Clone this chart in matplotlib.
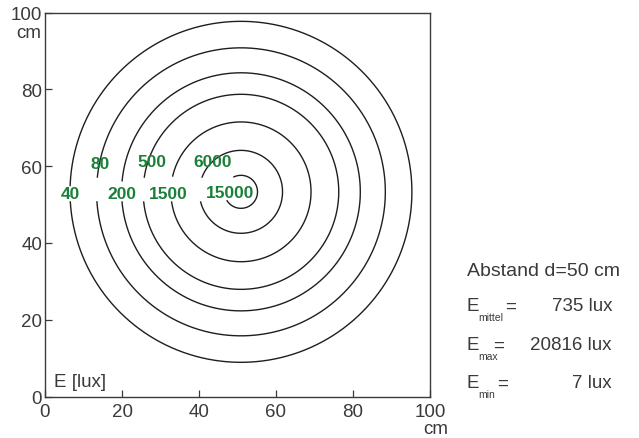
import numpy as np
import matplotlib.pyplot as plt

plt.rcParams['font.family'] = ['Liberation Sans', 'DejaVu Sans']

# Isolinien der Beleuchtungsstaerke (lux) und ihre Radien in cm
levels = [40, 80, 200, 500, 1500, 6000, 15000]
radii = [44.4, 37.5, 31.0, 25.4, 18.2, 10.8, 4.3]
center = (50.9, 53.3)

# Kennwerte
abstand = 50
e_mittel = 735
e_max = 20816
e_min = 7

# Luecken in den Kreisen fuer die Beschriftung (Winkel in Grad)
gaps = {
    40: [(177.9, 183.4)],
    80: [(165.0, 172.1), (174.1, 184.0)],
    200: [(174.7, 184.9)],
    500: [(156.7, 167.7), (171.3, 186.0)],
    1500: [(166.9, 188.4)],
    6000: [(100.4, 150.0), (159.1, 194.2)],
    15000: [(115.0, 213.0)],
}
label_pos = {
    40: (6.5, 52.8),
    80: (14.2, 60.75),
    200: (20.05, 52.8),
    500: (27.7, 61.1),
    1500: (32.1, 52.8),
    6000: (43.5, 61.1),
    15000: (48.0, 53.0),
}

W, H = 639, 439
gray = '#3a3a3a'
green = '#1a8038'
fs = 13.5

fig = plt.figure(figsize=(W / 100, H / 100), dpi=100)
ax = fig.add_axes([45 / W, 1 - 397.5 / H, 385 / W, 384 / H])

for lev, r in zip(levels, radii):
    g = gaps[lev]
    # Start am Ende der letzten Luecke, damit der Kreis sauber geschlossen ist
    t = np.linspace(g[-1][1], g[-1][0] + 360, 2881)
    for a, b in g[:-1]:
        t[(t > a) & (t < b)] = np.nan
    x = center[0] + r * np.cos(np.radians(t))
    y = center[1] + r * np.sin(np.radians(t))
    ax.plot(x, y, color='#1e1e1e', lw=1.0)
    lx, ly = label_pos[lev]
    ax.text(lx, ly, str(lev), color=green, fontsize=12.5, fontweight='bold',
            ha='center', va='center')

ax.set_xlim(0, 100)
ax.set_ylim(0, 100)
ax.set_xticks(range(0, 101, 20))
ax.set_yticks(range(0, 101, 20))
ax.tick_params(direction='in', length=5, width=0.9, colors=gray,
               labelsize=fs)
ax.tick_params(axis='x', pad=5)
ax.tick_params(axis='y', pad=2)
for s in ax.spines.values():
    s.set_color(gray)
    s.set_linewidth(1.0)

fig.text(54 / W, 1 - 383 / H, 'E [lux]', fontsize=fs, color=gray,
         ha='left', va='center')
fig.text(41 / W, 1 - 33 / H, 'cm', fontsize=fs, color=gray, ha='right', va='center')
fig.text(448 / W, 1 - 430 / H, 'cm', fontsize=fs, color=gray, ha='right', va='center')

# Kennwerte rechts
fig.text(467 / W, 1 - 271 / H, 'Abstand d=%d cm' % abstand, fontsize=14,
         color=gray, ha='left', va='center')
rows = [('mittel', e_mittel, 307, 505), ('max', e_max, 346, 493),
        ('min', e_min, 384, 497)]
for sub, val, yy, xeq in rows:
    fig.text(466 / W, 1 - yy / H, 'E', fontsize=fs, color=gray,
             ha='left', va='center')
    fig.text(478 / W, 1 - (yy + 11) / H, sub, fontsize=7.5, color=gray,
             ha='left', va='center')
    fig.text(xeq / W, 1 - yy / H, '=', fontsize=fs, color=gray,
             ha='left', va='center')
    fig.text(612 / W, 1 - yy / H, '%d lux' % val, fontsize=fs, color=gray,
             ha='right', va='center')

fig.savefig('out.png', dpi=100)
